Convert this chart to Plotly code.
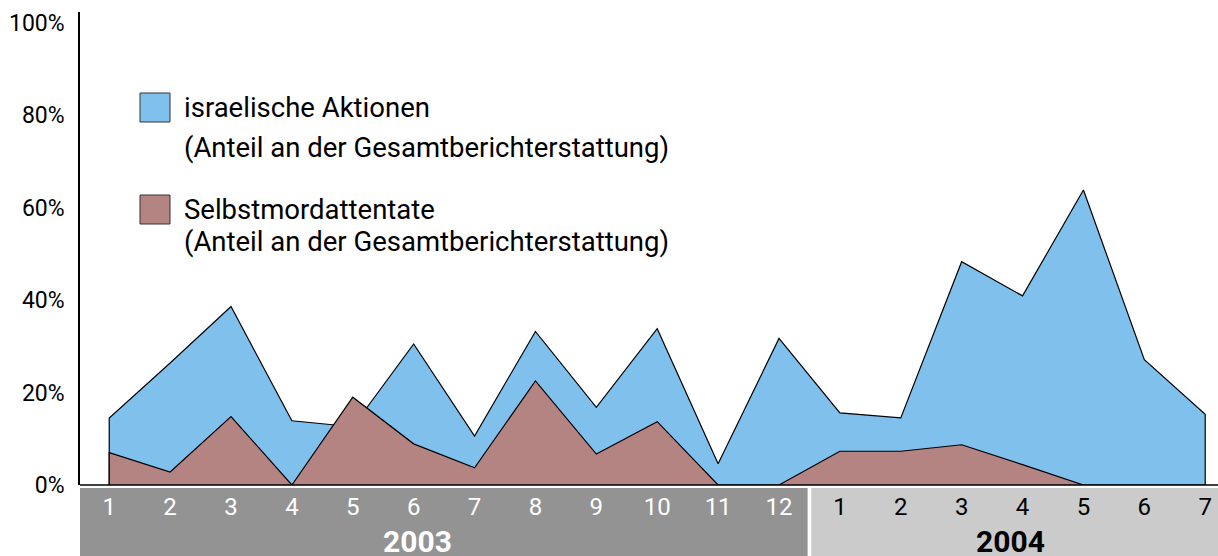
import plotly.graph_objects as go

# ---- data ----
months_2003 = ["1", "2", "3", "4", "5", "6", "7", "8", "9", "10", "11", "12"]
months_2004 = ["1", "2", "3", "4", "5", "6", "7"]
years = ["2003", "2004"]
israelische_aktionen = [14.5, 26.4, 38.6, 13.9, 12.6, 30.5, 10.6, 33.2, 16.8, 33.8, 4.6, 31.7,
                        15.6, 14.5, 48.3, 40.9, 63.8, 27.1, 15.3]
selbstmordattentate = [7.0, 2.8, 14.8, 0.0, 19.0, 8.9, 3.7, 22.5, 6.7, 13.7, 0.0, 0.0,
                       7.3, 7.3, 8.7, 4.4, 0.0, 0.0, 0.0]
y_ticks = [0, 20, 40, 60, 80, 100]
legend_names = ["israelische Aktionen", "Selbstmordattentate"]
legend_sub = "(Anteil an der Gesamtberichterstattung)"

FONT = "Roboto, sans-serif"
BLUE = "#80C0EC"
RED = "#B38482"
DARK = "#939393"
LIGHT = "#CBCBCB"

idx = list(range(len(months_2003) + len(months_2004)))
n03 = len(months_2003)

fig = go.Figure()
for vals, col in [(israelische_aktionen, BLUE), (selbstmordattentate, RED)]:
    xs = [idx[0]] + idx + [idx[-1]]
    ys = [0] + vals + [0]
    fig.add_trace(go.Scatter(x=xs, y=ys, mode="lines", fill="toself", fillcolor=col,
                             line=dict(color="black", width=1.2), hoverinfo="skip",
                             showlegend=False))

W, H = 1218, 556
ml, mr, mt, mb = 80, 0, 12, 71
pw, ph = W - ml - mr, H - mt - mb
x_lo, x_hi = -0.48, 18.21

def px(x):
    return (x - ml) / pw

def py(y):
    return (H - mb - y) / ph

ticktext = [f'<span style="color:white">{m}</span>' for m in months_2003] + \
           [f'<span style="color:black">{m}</span>' for m in months_2004]

shapes = [
    dict(type="rect", xref="x", yref="paper", x0=x_lo, x1=n03 - 0.53,
         y0=-3.0 / ph, y1=-(mb + 2) / ph, fillcolor=DARK, line_width=0, layer="below"),
    dict(type="rect", xref="x", yref="paper", x0=n03 - 0.47, x1=x_hi + 0.5,
         y0=-3.0 / ph, y1=-(mb + 2) / ph, fillcolor=LIGHT, line_width=0, layer="below"),
    dict(type="line", xref="paper", yref="paper", x0=0, x1=1, y0=0, y1=0,
         line=dict(color="black", width=1.5)),
]

# legend squares
for col, cy in [(BLUE, 107.5), (RED, 209.5)]:
    shapes.append(dict(type="rect", xref="paper", yref="paper",
                       x0=px(140), x1=px(170), y0=py(cy - 14.5), y1=py(cy + 14.5),
                       fillcolor=col, line=dict(color="#333333", width=1)))

annotations = []
for name, ys in [(legend_names[0], (107, 147)), (legend_names[1], (210, 241))]:
    annotations.append(dict(text=name, xref="paper", yref="paper", x=px(182), y=py(ys[0]),
                            xanchor="left", yanchor="middle", showarrow=False,
                            font=dict(family=FONT, size=27.5, color="black")))
    annotations.append(dict(text=legend_sub, xref="paper", yref="paper", x=px(182), y=py(ys[1]),
                            xanchor="left", yanchor="middle", showarrow=False,
                            font=dict(family=FONT, size=27.5, color="black")))

for yr, xc, col in [(years[0], 5.06, "white"), (years[1], 14.8, "black")]:
    annotations.append(dict(text=f"<b>{yr}</b>", xref="x", yref="paper", x=xc, y=py(541),
                            xanchor="center", yanchor="middle", showarrow=False,
                            height=26, valign="middle", borderpad=0,
                            font=dict(family=FONT, size=30, color=col)))

fig.update_layout(
    width=W, height=H,
    margin=dict(l=ml, r=mr, t=mt, b=mb, pad=0),
    paper_bgcolor="white", plot_bgcolor="white",
    font=dict(family=FONT, color="black"),
    xaxis=dict(range=[x_lo, x_hi], tickvals=idx, ticktext=ticktext, showgrid=False,
               zeroline=False, showline=False, ticks="", ticklabelstandoff=5,
               tickfont=dict(family=FONT, size=24)),
    yaxis=dict(range=[0, 102.3], tickvals=y_ticks, ticktext=[f"{v}%" for v in y_ticks],
               showgrid=False, zeroline=False, showline=True, linecolor="black", linewidth=1.5,
               ticks="outside", ticklen=9, tickcolor="rgba(0,0,0,0)",
               tickfont=dict(family=FONT, size=23)),
    shapes=shapes, annotations=annotations, showlegend=False,
)

fig.write_html("out.html", config={"displayModeBar": False},
               post_script="document.body.style.margin='0px';")
